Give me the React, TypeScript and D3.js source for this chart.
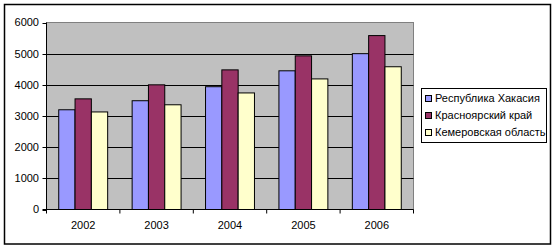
import React from "react";
import * as d3 from "d3";

const years = ["2002", "2003", "2004", "2005", "2006"];
const seriesNames = ["Республика Хакасия", "Красноярский край", "Кемеровская область"];
const khakasia = [3200, 3490, 3940, 4450, 5000];
const krasnoyarsk = [3550, 4000, 4480, 4930, 5580];
const kemerovo = [3130, 3360, 3740, 4190, 4580];
const yTicks = [0, 1000, 2000, 3000, 4000, 5000, 6000];
const colors = ["#9999FF", "#993366", "#FFFFCC"];

export default function App() {
  const W = 557, H = 249;
  const left = 46.5, right = 413.5, top = 22.5, bottom = 209.5;
  const series = [khakasia, krasnoyarsk, kemerovo];
  const x = d3.scaleBand<string>().domain(years).range([left, right]).paddingInner(0).paddingOuter(0);
  const bw = x.bandwidth();
  const barW = bw / 4.5;
  const y = d3.scaleLinear().domain([0, 6000]).range([bottom, top]);
  const font = "Arial, 'Liberation Sans', sans-serif";
  return (
    <svg width={W} height={H} style={{ position: "absolute", left: 0, top: 0 }}>
      <rect x={0} y={0} width={W} height={H} fill="#fff" />
      <rect x={4.5} y={4.5} width={546} height={239.5} fill="#fff" stroke="#000" strokeWidth={1.5} />
      <rect x={left} y={top} width={right - left} height={bottom - top} fill="#C0C0C0" stroke="#808080" strokeWidth={1} />
      {yTicks.filter(t => t > 0 && t < 6000).map(t => (
        <line key={t} x1={left} x2={right} y1={Math.round(y(t)) + 0.5} y2={Math.round(y(t)) + 0.5} stroke="#000" strokeWidth={1} />
      ))}
      {years.map((yr, i) => series.map((s, j) => {
        const x0 = (x(yr) as number) + barW * 0.75 + j * barW;
        return (
          <rect key={yr + j} x={x0} y={y(s[i])} width={barW} height={bottom - y(s[i])} fill={colors[j]} stroke="#000" strokeWidth={1} />
        );
      }))}
      <line x1={left} x2={left} y1={top} y2={bottom} stroke="#000" strokeWidth={1} />
      <line x1={left - 4} x2={right} y1={bottom} y2={bottom} stroke="#000" strokeWidth={1} />
      {yTicks.map(t => (
        <g key={t}>
          <line x1={left - 4} x2={left} y1={Math.round(y(t)) + 0.5} y2={Math.round(y(t)) + 0.5} stroke="#000" />
          <text x={39} y={y(t)} dy="0.35em" textAnchor="end" fontFamily={font} fontSize={11} fill="#000">{t}</text>
        </g>
      ))}
      {years.map((yr, i) => (
        <line key={"t" + yr} x1={(x(yr) as number)} x2={(x(yr) as number)} y1={bottom} y2={bottom + 4} stroke="#000" />
      ))}
      <line x1={right} x2={right} y1={bottom} y2={bottom + 4} stroke="#000" />
      {years.map(yr => (
        <text key={"l" + yr} x={(x(yr) as number) + bw / 2} y={225} dy="0.35em" textAnchor="middle" fontFamily={font} fontSize={11} fill="#000">{yr}</text>
      ))}
      <rect x={421.5} y={88.5} width={125} height={54} fill="#fff" stroke="#000" strokeWidth={1} />
      {seriesNames.map((n, j) => (
        <g key={n}>
          <rect x={425.5} y={95.5 + j * 17} width={6} height={6} fill={colors[j]} stroke="#000" strokeWidth={1} />
          <text x={435} y={98.5 + j * 17} dy="0.35em" fontFamily={font} fontSize={11} fill="#000">{n}</text>
        </g>
      ))}
    </svg>
  );
}
